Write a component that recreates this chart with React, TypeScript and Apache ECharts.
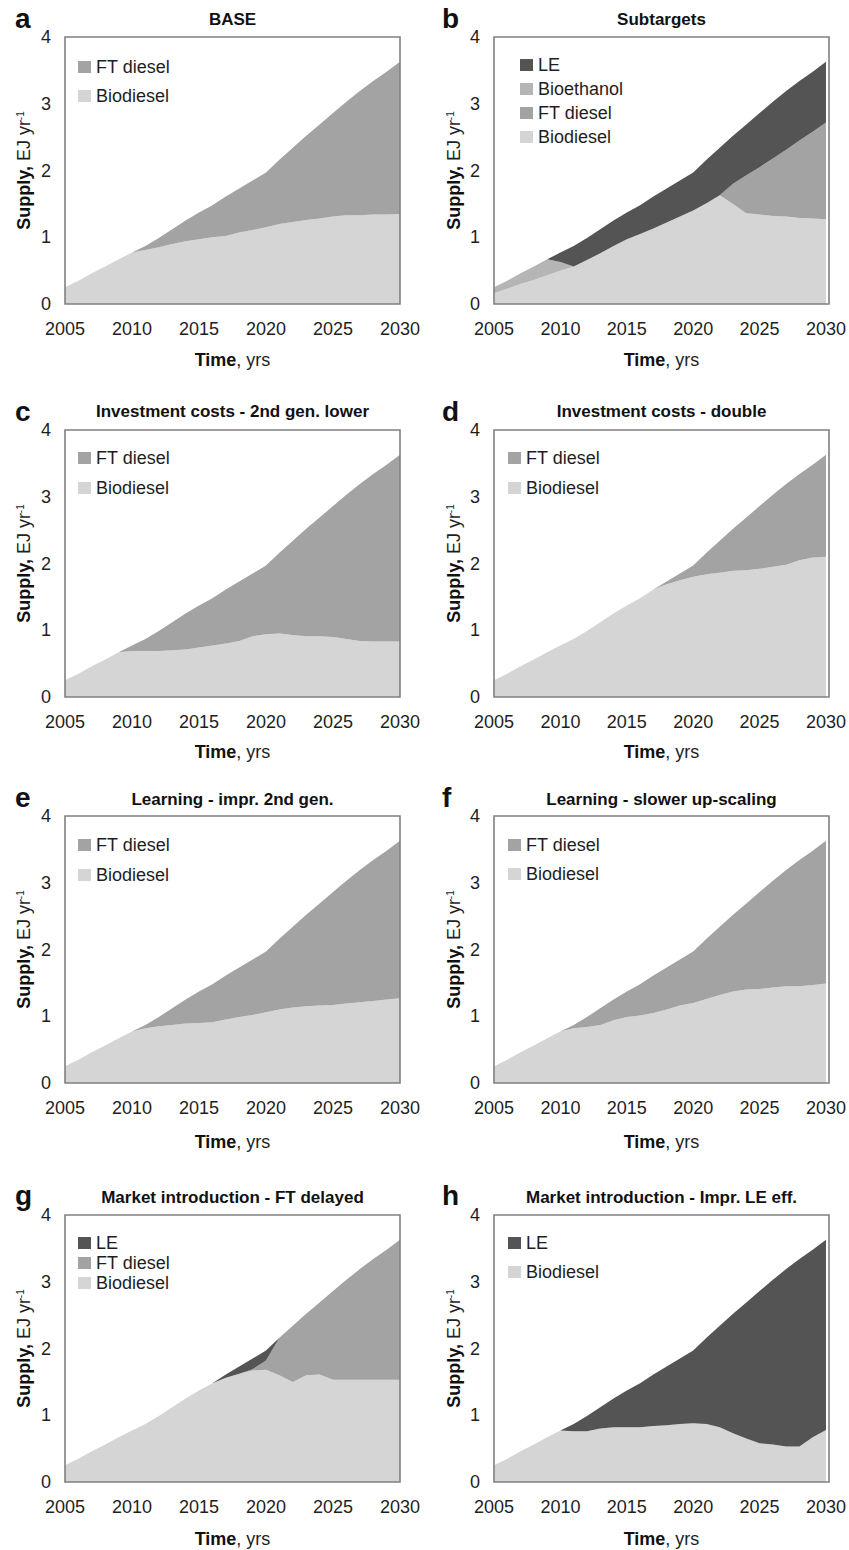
import React, { useEffect, useRef } from "react";
import * as echarts from "echarts";

// ---------- data (EJ/yr), years 2005..2030 ----------
const years = ["2005", "2006", "2007", "2008", "2009", "2010", "2011", "2012", "2013", "2014", "2015", "2016", "2017", "2018", "2019", "2020", "2021", "2022", "2023", "2024", "2025", "2026", "2027", "2028", "2029", "2030"];
const yTicks = [0, 1, 2, 3, 4];

// a  BASE
const aBiodiesel = [0.25, 0.35, 0.46, 0.56, 0.67, 0.77, 0.81, 0.85, 0.9, 0.94, 0.97, 1.0, 1.02, 1.07, 1.11, 1.15, 1.2, 1.23, 1.26, 1.28, 1.31, 1.33, 1.33, 1.34, 1.34, 1.35];
const aFTdiesel = [0, 0, 0, 0, 0, 0, 0.06, 0.14, 0.22, 0.31, 0.4, 0.48, 0.59, 0.66, 0.74, 0.82, 0.96, 1.11, 1.26, 1.41, 1.55, 1.7, 1.86, 2.0, 2.14, 2.28];

// b  Subtargets
const bBiodiesel = [0.16, 0.23, 0.3, 0.36, 0.43, 0.5, 0.56, 0.66, 0.76, 0.87, 0.97, 1.05, 1.13, 1.22, 1.31, 1.4, 1.51, 1.63, 1.5, 1.36, 1.34, 1.32, 1.31, 1.29, 1.28, 1.27];
const bFTdiesel = [0, 0, 0, 0, 0, 0, 0, 0, 0, 0, 0, 0, 0, 0, 0, 0, 0, 0, 0.3, 0.57, 0.71, 0.86, 1.0, 1.16, 1.3, 1.45];
const bBioethanol = [0.09, 0.12, 0.16, 0.2, 0.24, 0.13, 0, 0, 0, 0, 0, 0, 0, 0, 0, 0, 0, 0, 0, 0, 0, 0, 0, 0, 0, 0];
const bLE = [0, 0, 0, 0, 0, 0.14, 0.31, 0.33, 0.36, 0.38, 0.4, 0.43, 0.48, 0.51, 0.54, 0.57, 0.65, 0.71, 0.72, 0.76, 0.81, 0.85, 0.88, 0.89, 0.9, 0.91];

// c  Investment costs - 2nd gen. lower
const cBiodiesel = [0.25, 0.35, 0.46, 0.56, 0.67, 0.69, 0.69, 0.69, 0.7, 0.71, 0.74, 0.77, 0.8, 0.84, 0.91, 0.94, 0.95, 0.93, 0.91, 0.91, 0.9, 0.87, 0.84, 0.83, 0.83, 0.83];
const cFTdiesel = [0, 0, 0, 0, 0, 0.08, 0.18, 0.3, 0.42, 0.54, 0.63, 0.71, 0.81, 0.89, 0.94, 1.03, 1.21, 1.41, 1.61, 1.78, 1.96, 2.16, 2.35, 2.51, 2.65, 2.8];

// d  Investment costs - double
const dBiodiesel = [0.25, 0.35, 0.46, 0.56, 0.67, 0.77, 0.87, 0.99, 1.12, 1.25, 1.37, 1.48, 1.61, 1.69, 1.75, 1.8, 1.84, 1.86, 1.89, 1.9, 1.92, 1.95, 1.98, 2.05, 2.09, 2.1];
const dFTdiesel = [0, 0, 0, 0, 0, 0, 0, 0, 0, 0, 0, 0, 0, 0.04, 0.1, 0.17, 0.32, 0.48, 0.63, 0.79, 0.94, 1.08, 1.21, 1.29, 1.39, 1.53];

// e  Learning - impr. 2nd gen.
const eBiodiesel = [0.25, 0.35, 0.46, 0.56, 0.67, 0.77, 0.82, 0.85, 0.87, 0.89, 0.9, 0.91, 0.95, 0.99, 1.02, 1.06, 1.1, 1.13, 1.15, 1.16, 1.17, 1.19, 1.21, 1.23, 1.25, 1.27];
const eFTdiesel = [0, 0, 0, 0, 0, 0, 0.05, 0.14, 0.25, 0.36, 0.47, 0.57, 0.66, 0.74, 0.83, 0.91, 1.06, 1.21, 1.37, 1.53, 1.69, 1.84, 1.98, 2.11, 2.23, 2.36];

// f  Learning - slower up-scaling
const fBiodiesel = [0.25, 0.35, 0.46, 0.56, 0.67, 0.77, 0.82, 0.84, 0.87, 0.94, 0.99, 1.01, 1.05, 1.1, 1.16, 1.2, 1.26, 1.32, 1.37, 1.4, 1.41, 1.43, 1.45, 1.45, 1.47, 1.49];
const fFTdiesel = [0, 0, 0, 0, 0, 0, 0.05, 0.15, 0.25, 0.31, 0.38, 0.47, 0.56, 0.63, 0.69, 0.77, 0.9, 1.02, 1.15, 1.29, 1.45, 1.6, 1.74, 1.89, 2.01, 2.14];

// g  Market introduction - FT delayed
const gBiodiesel = [0.25, 0.35, 0.46, 0.56, 0.67, 0.77, 0.87, 0.99, 1.12, 1.25, 1.37, 1.48, 1.56, 1.62, 1.67, 1.68, 1.6, 1.5, 1.6, 1.61, 1.53, 1.53, 1.53, 1.53, 1.53, 1.53];
const gFTdiesel = [0, 0, 0, 0, 0, 0, 0, 0, 0, 0, 0, 0, 0, 0, 0.02, 0.14, 0.56, 0.84, 0.92, 1.08, 1.33, 1.5, 1.66, 1.81, 1.95, 2.1];
const gLE = [0, 0, 0, 0, 0, 0, 0, 0, 0, 0, 0, 0, 0.05, 0.11, 0.16, 0.15, 0, 0, 0, 0, 0, 0, 0, 0, 0, 0];

// h  Market introduction - Impr. LE eff.
const hBiodiesel = [0.25, 0.35, 0.46, 0.56, 0.67, 0.77, 0.76, 0.76, 0.8, 0.82, 0.82, 0.82, 0.84, 0.85, 0.87, 0.88, 0.87, 0.82, 0.73, 0.65, 0.58, 0.56, 0.53, 0.53, 0.67, 0.78];
const hLE = [0, 0, 0, 0, 0, 0, 0.11, 0.23, 0.32, 0.43, 0.55, 0.66, 0.77, 0.88, 0.98, 1.09, 1.29, 1.52, 1.79, 2.04, 2.28, 2.47, 2.66, 2.81, 2.81, 2.85];

const COLORS: Record<string, string> = {
  Biodiesel: "#d5d5d5",
  "FT diesel": "#a3a3a3",
  Bioethanol: "#b5b5b5",
  LE: "#545454",
};

type Layer = { name: string; data: number[] };
type Panel = { letter: string; title: string; layers: Layer[]; legendGap: number };

const panels: Panel[] = [
  { letter: "a", title: "BASE", legendGap: 9, layers: [{ name: "Biodiesel", data: aBiodiesel }, { name: "FT diesel", data: aFTdiesel }] },
  { letter: "b", title: "Subtargets", legendGap: 4, layers: [{ name: "Biodiesel", data: bBiodiesel }, { name: "FT diesel", data: bFTdiesel }, { name: "Bioethanol", data: bBioethanol }, { name: "LE", data: bLE }] },
  { letter: "c", title: "Investment costs - 2nd gen. lower", legendGap: 10, layers: [{ name: "Biodiesel", data: cBiodiesel }, { name: "FT diesel", data: cFTdiesel }] },
  { letter: "d", title: "Investment costs - double", legendGap: 10, layers: [{ name: "Biodiesel", data: dBiodiesel }, { name: "FT diesel", data: dFTdiesel }] },
  { letter: "e", title: "Learning - impr. 2nd gen.", legendGap: 10, layers: [{ name: "Biodiesel", data: eBiodiesel }, { name: "FT diesel", data: eFTdiesel }] },
  { letter: "f", title: "Learning - slower up-scaling", legendGap: 9, layers: [{ name: "Biodiesel", data: fBiodiesel }, { name: "FT diesel", data: fFTdiesel }] },
  { letter: "g", title: "Market introduction - FT delayed", legendGap: 0, layers: [{ name: "Biodiesel", data: gBiodiesel }, { name: "FT diesel", data: gFTdiesel }, { name: "LE", data: gLE }] },
  { letter: "h", title: "Market introduction - Impr. LE eff.", legendGap: 9, layers: [{ name: "Biodiesel", data: hBiodiesel }, { name: "LE", data: hLE }] },
];

// ---------- layout ----------
const FONT = "'Liberation Sans', Arial, Helvetica, sans-serif";
const COL_LEFT = [65, 494];
const ROW_TOP = [37, 430, 816, 1215];
const PW = 335;
const PH = 267;
const LETTER_BASE = [27, 420, 806, 1204];
const TITLE_Y = [19, 411, 799, 1197];
const XNAME_Y = [360, 752, 1142, 1539];
const YNAME_X = [24, 454];
const LEGEND_TOP = [52, 443, 830, 1228];
const LEGEND_LEFT = [73, 503];

function buildOption() {
  const grid: any[] = [];
  const xAxis: any[] = [];
  const yAxis: any[] = [];
  const series: any[] = [];
  const legend: any[] = [];
  const graphic: any[] = [];

  panels.forEach((p, i) => {
    const col = i % 2;
    const row = Math.floor(i / 2);
    const left = COL_LEFT[col];
    const top = ROW_TOP[row];
    grid.push({ left, top, width: PW, height: PH, containLabel: false });
    xAxis.push({
      type: "category",
      gridIndex: i,
      data: years,
      boundaryGap: false,
      axisLine: { show: false },
      axisTick: { show: false },
      splitLine: { show: false },
      axisLabel: { interval: 4, fontSize: 18, color: "#1e1e1e", fontFamily: FONT, margin: 16 },
    });
    yAxis.push({
      type: "value",
      gridIndex: i,
      min: yTicks[0],
      max: yTicks[yTicks.length - 1],
      interval: 1,
      axisLine: { show: false },
      axisTick: { show: false },
      splitLine: { show: false },
      axisLabel: { fontSize: 18, color: "#1e1e1e", fontFamily: FONT, margin: 14 },
    });
    p.layers.forEach((l) => {
      series.push({
        type: "line",
        name: l.name,
        xAxisIndex: i,
        yAxisIndex: i,
        stack: "panel" + i,
        symbol: "none",
        showSymbol: false,
        silent: true,
        lineStyle: { width: 0, color: COLORS[l.name] },
        itemStyle: { color: COLORS[l.name] },
        areaStyle: { color: COLORS[l.name], opacity: 1 },
        emphasis: { disabled: true },
        data: l.data,
      });
    });
    legend.push({
      orient: "vertical",
      left: col === 1 && row === 0 ? 515 : LEGEND_LEFT[col],
      top: LEGEND_TOP[row] + (col === 1 && row === 0 ? -2 : 0),
      icon: "rect",
      itemWidth: 13,
      itemHeight: 12,
      itemGap: p.legendGap,
      selectedMode: false,
      textStyle: { fontSize: 18, color: "#1e1e1e", fontFamily: FONT, lineHeight: 20 },
      data: p.layers.map((l) => l.name).reverse(),
    });
    // frame
    graphic.push({
      type: "rect",
      silent: true,
      z: 100,
      shape: { x: left, y: top, width: PW, height: PH },
      style: { fill: "none", stroke: "#808080", lineWidth: 1.6 },
    });
    // panel letter
    graphic.push({
      type: "text",
      silent: true,
      x: col === 0 ? 15 : 442,
      y: LETTER_BASE[row] - 9,
      style: { text: p.letter, fontSize: 28, fontWeight: "bold", fontFamily: FONT, fill: "#111", align: "left", verticalAlign: "middle" },
    });
    // title
    graphic.push({
      type: "text",
      silent: true,
      x: left + PW / 2,
      y: TITLE_Y[row],
      style: { text: p.title, fontSize: 17, fontWeight: "bold", fontFamily: FONT, fill: "#111", align: "center", verticalAlign: "middle" },
    });
    // y axis name
    graphic.push({
      type: "text",
      silent: true,
      x: YNAME_X[col],
      y: top + PH / 2,
      rotation: Math.PI / 2,
      style: {
        text: "{b|Supply,} EJ yr{s|-1}",
        fontSize: 18,
        fontFamily: FONT,
        fill: "#1e1e1e",
        align: "center",
        verticalAlign: "middle",
        rich: {
          b: { fontSize: 18, fontWeight: "bold", fontFamily: FONT, fill: "#111" },
          s: { fontSize: 10, fontFamily: FONT, fill: "#1e1e1e", verticalAlign: "top" },
        },
      },
    });
    // x axis name
    graphic.push({
      type: "text",
      silent: true,
      x: left + PW / 2,
      y: XNAME_Y[row],
      style: {
        text: "{b|Time}, yrs",
        fontSize: 18,
        fontFamily: FONT,
        fill: "#1e1e1e",
        align: "center",
        verticalAlign: "middle",
        rich: { b: { fontSize: 18, fontWeight: "bold", fontFamily: FONT, fill: "#111" } },
      },
    });
  });

  return { animation: false, backgroundColor: "#ffffff", grid, xAxis, yAxis, series, legend, graphic };
}

export default function App() {
  const ref = useRef<HTMLDivElement>(null);
  useEffect(() => {
    if (!ref.current) return;
    const chart = echarts.init(ref.current, null, { renderer: "svg" });
    chart.setOption(buildOption() as any);
    return () => chart.dispose();
  }, []);
  return (
    <div
      ref={ref}
      style={{ position: "absolute", left: 0, top: 0, width: 849, height: 1550, background: "#fff" }}
    />
  );
}
